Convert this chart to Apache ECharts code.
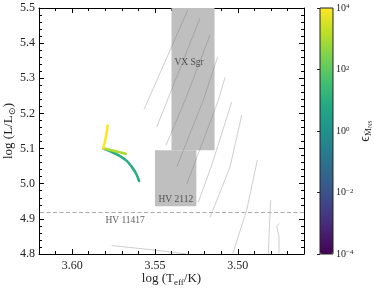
<!DOCTYPE html>
<html><head><meta charset="utf-8">
<script src="https://cdn.jsdelivr.net/npm/echarts@6/dist/echarts.min.js"></script>
<style>html,body{margin:0;padding:0;background:#fff}#c{width:374px;height:290px}</style>
</head><body><div id="c"></div>
<script>
// ---- data ----
const xRange = [3.46, 3.62];
const yRange = [4.8, 5.5];
const xMajorTicks = [3.50, 3.55, 3.60];
const cbarRange = [-4, 4];
const hv11417LogL = 4.92;
const vxSgrBox = [[3.540, 5.095], [3.514, 5.5]];
const hv2112Box = [[3.550, 4.936], [3.525, 5.095]];
const annotations = [
  [3.5294, 5.346, 'VX Sgr'],
  [3.5374, 4.955, 'HV 2112'],
  [3.568, 4.896, 'HV 11417']
];
const grayTracks = [
  [[3.5566, 5.2114], [3.5302, 5.494]],
  [[3.5489, 5.1618], [3.5228, 5.4707]],
  [[3.5433, 5.1097], [3.5318, 5.2379], [3.5167, 5.4231]],
  [[3.5368, 5.0479], [3.5208, 5.2379], [3.5121, 5.3613]],
  [[3.5308, 4.9986], [3.5117, 5.2379], [3.5077, 5.3026]],
  [[3.5238, 4.9481], [3.5157, 5.0527], [3.5036, 5.2330]],
  [[3.5167, 4.9046], [3.5047, 5.0470], [3.4976, 5.1952]],
  [[3.5030, 4.8011], [3.4946, 4.9245], [3.4882, 5.0670]],
  [[3.4815, 4.8011], [3.4809, 4.8769], [3.4801, 4.9530]],
  [[3.4751, 4.8011], [3.4751, 4.8484], [3.4765, 4.8789], [3.4749, 4.8866]],
  [[3.5761, 4.8240], [3.5489, 4.8105], [3.5308, 4.8000]]
];
const trackGreen = [[3.5812, 5.1003], [3.5771, 5.0926], [3.5721, 5.0812], [3.5670, 5.0650], [3.5640, 5.0479], [3.5614, 5.0291], [3.5596, 5.0080]];
const trackBranch = [[3.5812, 5.1011], [3.5676, 5.0850]];
const trackYellow = [[3.5785, 5.1658], [3.5795, 5.1345], [3.5812, 5.1011]];
const logEpsGreen = 1;
const logEpsBranch = 3;
const logEpsYellow = 4;

// ---- style helpers ----
const FONT = 'Liberation Serif';
const INK = '#222';
const viridisStops = ['#440154','#482475','#414487','#355f8d','#2a788e','#21918c','#22a884','#44bf70','#7ad151','#bddf26','#fde725'];
function viridis(v) {
  let t = (v - cbarRange[0]) / (cbarRange[1] - cbarRange[0]);
  t = Math.max(0, Math.min(1, t)) * (viridisStops.length - 1);
  const i = Math.min(Math.floor(t), viridisStops.length - 2), f = t - i;
  const a = parseInt(viridisStops[i].slice(1), 16), b = parseInt(viridisStops[i + 1].slice(1), 16);
  const ch = s => Math.round(((a >> s) & 255) * (1 - f) + ((b >> s) & 255) * f);
  return 'rgb(' + ch(16) + ',' + ch(8) + ',' + ch(0) + ')';
}

const chart = echarts.init(document.getElementById('c'));
const baseX = {
  type: 'value', gridIndex: 0, min: xRange[0], max: xRange[1], inverse: true,
  splitLine: { show: false }
};
const series = [];
series.push({
  type: 'line', data: [], xAxisIndex: 0, yAxisIndex: 0, z: 1, silent: true,
  markArea: {
    silent: true,
    itemStyle: { color: '#bfbfbf', opacity: 1 },
    data: [
      [{ coord: vxSgrBox[0] }, { coord: vxSgrBox[1] }],
      [{ coord: hv2112Box[0] }, { coord: hv2112Box[1] }]
    ]
  },
  markLine: {
    silent: true, symbol: 'none', label: { show: false },
    lineStyle: { color: '#aaaaaa', type: [4, 2.5], width: 1 },
    data: [{ yAxis: hv11417LogL }]
  }
});
grayTracks.forEach(t => series.push({
  type: 'line', data: t, showSymbol: false, silent: true, z: 3,
  lineStyle: { color: 'rgba(110,110,110,0.38)', width: 0.9 }
}));
[[trackGreen, logEpsGreen], [trackBranch, logEpsBranch], [trackYellow, logEpsYellow]].forEach(([d, e]) => series.push({
  type: 'line', data: d, showSymbol: false, silent: true, z: 5, smooth: 0.3,
  lineStyle: { color: viridis(e), width: 2.6, cap: 'round', join: 'round' }
}));
series.push({
  type: 'scatter', data: annotations, symbolSize: 0, silent: true, z: 6,
  label: { show: true, position: 'inside', formatter: p => p.data[2], fontFamily: FONT, fontSize: 9.5, color: '#333' }
});
series.push({ type: 'scatter', data: [], xAxisIndex: 4, yAxisIndex: 2 });
const cbarSeriesIndex = series.length - 1;

chart.setOption({
  animation: false,
  grid: [
    { left: 39, right: 70, top: 8, bottom: 36, show: false, containLabel: false, outerBoundsMode: 'none' },
    { left: 320, top: 8, width: 13, height: 246, show: true, borderColor: '#222', borderWidth: 1, backgroundColor: 'transparent', z: 10, containLabel: false, outerBoundsMode: 'none' }
  ],
  xAxis: [
    Object.assign({}, baseX, {
      position: 'bottom', interval: 0.01,
      axisLine: { show: true, lineStyle: { color: '#000', width: 1 } },
      axisTick: { show: true, inside: true, length: 3, lineStyle: { color: '#000' } },
      axisLabel: { customValues: xMajorTicks, formatter: v => v.toFixed(2), margin: 6, fontFamily: FONT, fontSize: 12, color: INK },
      name: 'log (T{sub|eff}/K)', nameLocation: 'middle', nameGap: 17, nameMoveOverlap: false,
      nameTextStyle: { fontFamily: FONT, fontSize: 13, color: INK, lineHeight: 16,
        rich: { sub: { fontFamily: FONT, fontSize: 9, verticalAlign: 'bottom', lineHeight: 10, color: INK } } }
    }),
    Object.assign({}, baseX, {
      position: 'bottom', axisLine: { show: false }, axisLabel: { show: false },
      axisTick: { show: true, inside: true, length: 5, customValues: xMajorTicks, lineStyle: { color: '#000' } }
    }),
    Object.assign({}, baseX, {
      position: 'top', interval: 0.01,
      axisLine: { show: true, lineStyle: { color: '#000', width: 1 } },
      axisTick: { show: true, inside: true, length: 3, lineStyle: { color: '#000' } },
      axisLabel: { show: false }
    }),
    Object.assign({}, baseX, {
      position: 'top', axisLine: { show: false }, axisLabel: { show: false },
      axisTick: { show: true, inside: true, length: 5, customValues: xMajorTicks, lineStyle: { color: '#000' } }
    }),
    { type: 'value', gridIndex: 1, min: 0, max: 1, show: false }
  ],
  yAxis: [
    {
      type: 'value', gridIndex: 0, min: yRange[0], max: yRange[1], interval: 0.1, position: 'left',
      splitLine: { show: false },
      axisLine: { show: true, lineStyle: { color: '#000', width: 1 } },
      axisTick: { show: true, inside: true, length: 5, lineStyle: { color: '#000' } },
      minorTick: { show: true, splitNumber: 5, length: 3, lineStyle: { color: '#000' } },
      axisLabel: { formatter: v => v.toFixed(1), margin: 4, fontFamily: FONT, fontSize: 12, color: INK },
      name: 'log (L/L{sub|⊙})', nameLocation: 'middle', nameGap: 22, nameMoveOverlap: false,
      nameTextStyle: { fontFamily: FONT, fontSize: 13, color: INK, lineHeight: 16,
        rich: { sub: { fontFamily: FONT, fontSize: 9, verticalAlign: 'bottom', lineHeight: 10, color: INK } } }
    },
    {
      type: 'value', gridIndex: 0, min: yRange[0], max: yRange[1], interval: 0.1, position: 'right',
      splitLine: { show: false },
      axisLine: { show: true, lineStyle: { color: '#000', width: 1 } },
      axisTick: { show: true, inside: true, length: 5, lineStyle: { color: '#000' } },
      minorTick: { show: true, splitNumber: 5, length: 3, lineStyle: { color: '#000' } },
      axisLabel: { show: false }
    },
    {
      type: 'value', gridIndex: 1, min: cbarRange[0], max: cbarRange[1], interval: 2, position: 'right', z: 10,
      splitLine: { show: false },
      axisLine: { show: false },
      axisTick: { show: true, inside: true, length: 3, lineStyle: { color: '#222' } },
      axisLabel: {
        margin: 3, fontFamily: FONT, fontSize: 10, color: INK,
        formatter: v => '10{sup|' + (v < 0 ? '\u2212' + (-v) : v) + '}',
        rich: { sup: { fontFamily: FONT, fontSize: 7, verticalAlign: 'top', lineHeight: 8, color: INK } }
      },
      name: '\u03F5{sub|\u1E40}{ss|NS}', nameLocation: 'middle', nameGap: 24, nameMoveOverlap: false,
      nameTextStyle: { fontFamily: FONT, fontSize: 14, color: INK, lineHeight: 16,
        rich: {
          sub: { fontFamily: FONT, fontSize: 9, verticalAlign: 'bottom', lineHeight: 10, color: INK },
          ss: { fontFamily: FONT, fontSize: 6, verticalAlign: 'bottom', lineHeight: 6, color: INK }
        } }
    }
  ],
  visualMap: {
    type: 'continuous', min: cbarRange[0], max: cbarRange[1], dimension: 1,
    seriesIndex: cbarSeriesIndex, calculable: false, hoverLink: false,
    left: 320, top: 8, itemWidth: 13, itemHeight: 246, padding: 0, text: null, showLabel: false,
    inRange: { color: viridisStops }, orient: 'vertical'
  },
  series: series
});
</script></body></html>
